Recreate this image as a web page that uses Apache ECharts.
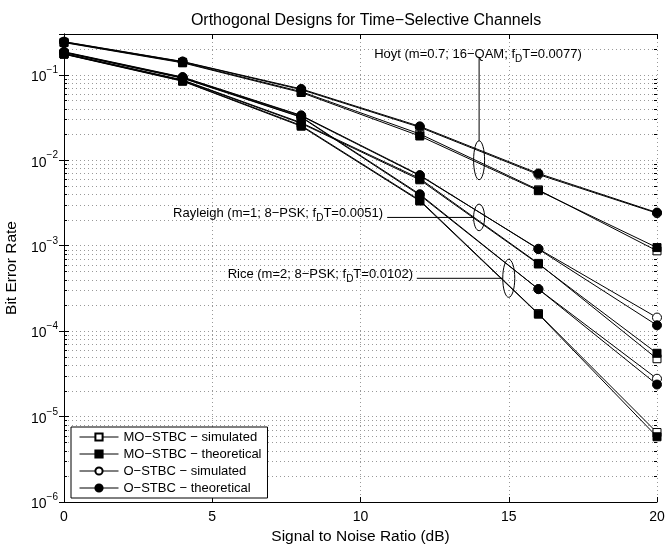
<!DOCTYPE html>
<html>
<head>
<meta charset="utf-8">
<script src="https://cdn.jsdelivr.net/npm/echarts@6/dist/echarts.min.js"></script>
<style>
  html, body { margin: 0; padding: 0; background: #fff; }
  .box { width: 666px; height: 544px; }
</style>
</head>
<body>
<div class="box"></div>
<script>
// SNR points (dB)
var snr = [0, 4, 8, 12, 16, 20];

// Hoyt (m=0.7; 16-QAM)
var hoytMOsim = [0.240, 0.140, 0.0635, 0.0203, 0.00450, 0.00087];
var hoytMOth  = [0.238, 0.138, 0.0620, 0.0192, 0.00440, 0.00095];
var hoytOsim  = [0.243, 0.142, 0.0670, 0.0243, 0.00680, 0.00240];
var hoytOth   = [0.244, 0.143, 0.0683, 0.0249, 0.00700, 0.00244];

// Rayleigh (m=1; 8-PSK)
var rayMOsim = [0.178, 0.087, 0.0275, 0.0061, 0.00062, 0.0000475];
var rayMOth  = [0.176, 0.086, 0.0270, 0.0059, 0.00061, 0.000055];
var rayOsim  = [0.184, 0.093, 0.0330, 0.0066, 0.00092, 0.000144];
var rayOth   = [0.186, 0.094, 0.0335, 0.0067, 0.00091, 0.000117];

// Rice (m=2; 8-PSK)
var riceMOsim = [0.175, 0.085, 0.0255, 0.0034, 0.000160, 0.0000065];
var riceMOth  = [0.174, 0.084, 0.0250, 0.00333, 0.000158, 0.0000058];
var riceOsim  = [0.182, 0.091, 0.0318, 0.0039, 0.00031, 0.0000277];
var riceOth   = [0.183, 0.092, 0.0322, 0.0040, 0.00031, 0.0000237];

var legendNames = ["MO\u2212STBC \u2212 simulated", "MO\u2212STBC \u2212 theoretical",
                   "O\u2212STBC \u2212 simulated", "O\u2212STBC \u2212 theoretical"];
var xTicks = [0, 5, 10, 15, 20];

(function () {
    var myChart = echarts.init(document.querySelector(".box"));
    var font = "'Liberation Sans', Arial, Helvetica, sans-serif";

    function pairs(vals) {
        return vals.map(function (v, i) { return [snr[i], v]; });
    }

    // one line series; open markers are white inside
    function mk(nameIdx, vals, symbol, filled) {
        return {
            name: legendNames[nameIdx],
            type: "line",
            data: pairs(vals),
            symbol: symbol,
            symbolSize: symbol === "circle" ? 9 : 8,
            showAllSymbol: true,
            lineStyle: { color: "#000", width: 1 },
            itemStyle: { color: filled ? "#000" : "#fff", borderColor: "#000", borderWidth: 1 },
            z: filled ? 3 : 2,
            animation: false
        };
    }

    // minor log grid lines (2..9 of every decade)
    var minor = [];
    for (var e = -6; e <= -1; e++) {
        for (var k = 2; k <= 9; k++) {
            var v = k * Math.pow(10, e);
            if (v < 0.3) minor.push(v);
        }
    }

    var series = [
        mk(0, hoytMOsim, "rect", false), mk(1, hoytMOth, "rect", true),
        mk(2, hoytOsim, "circle", false), mk(3, hoytOth, "circle", true),
        mk(0, rayMOsim, "rect", false), mk(1, rayMOth, "rect", true),
        mk(2, rayOsim, "circle", false), mk(3, rayOth, "circle", true),
        mk(0, riceMOsim, "rect", false), mk(1, riceMOth, "rect", true),
        mk(2, riceOsim, "circle", false), mk(3, riceOth, "circle", true),
        {
            // dotted minor grid + short inner minor ticks on both sides
            name: "minor",
            type: "custom",
            silent: true,
            z: 1,
            animation: false,
            data: minor.map(function (v) { return [0, v]; }),
            renderItem: function (params, api) {
                var y = Math.round(api.coord([0, api.value(1)])[1]) + 0.5;
                var cs = params.coordSys;
                var l = cs.x, r = cs.x + cs.width;
                var tick = { stroke: "#000", lineWidth: 1 };
                return {
                    type: "group",
                    children: [
                        { type: "line", shape: { x1: l, y1: y, x2: r, y2: y },
                          style: { stroke: "#999", lineWidth: 1, lineDash: [1, 3] } },
                        { type: "line", shape: { x1: l, y1: y, x2: l + 3, y2: y }, style: tick },
                        { type: "line", shape: { x1: r - 3, y1: y, x2: r, y2: y }, style: tick }
                    ]
                };
            }
        }
    ];

    function powLabel(v) {
        var lg = Math.log10(v);
        var e = Math.round(lg);
        if (Math.abs(lg - e) > 1e-6) return "";
        return "{b|10}{s|\u2212" + (-e) + "}";
    }

    var option = {
        backgroundColor: "#fff",
        textStyle: { fontFamily: font },
        title: {
            text: "Orthogonal Designs for Time\u2212Selective Channels",
            left: 361,
            textAlign: "center",
            top: 8,
            textStyle: { fontFamily: font, fontSize: 16, fontWeight: "normal", color: "#000" }
        },
        grid: { left: 64, right: 9, top: 34, bottom: 42, outerBoundsMode: "none", containLabel: false },
        legend: {
            data: legendNames,
            orient: "vertical",
            left: 71,
            top: 427,
            padding: [3, 6, 3, 8],
            itemGap: 3,
            itemWidth: 39,
            itemHeight: 9,
            backgroundColor: "#fff",
            borderColor: "#000",
            borderWidth: 1,
            borderRadius: 0,
            selectedMode: false,
            lineStyle: { width: 1, color: "#000" },
            textStyle: { fontFamily: font, fontSize: 13, color: "#000", lineHeight: 14 }
        },
        xAxis: [{
            type: "value",
            min: 0, max: 20, interval: 5,
            name: "Signal to Noise Ratio (dB)",
            nameLocation: "middle",
            nameGap: 25,
            nameTextStyle: { fontFamily: font, fontSize: 15.5, color: "#000" },
            axisLine: { lineStyle: { color: "#000", width: 1 } },
            axisTick: { inside: true, length: 5, lineStyle: { color: "#000" } },
            axisLabel: { fontFamily: font, fontSize: 14, color: "#000", margin: 8,
                formatter: function (v) { return xTicks.indexOf(v) >= 0 ? String(v) : ""; } },
            splitLine: { show: true, lineStyle: { color: "#999", width: 1, type: [1, 3] } }
        }, {
            type: "value",
            position: "top",
            min: 0, max: 20, interval: 5,
            axisLine: { show: true, lineStyle: { color: "#000", width: 1 } },
            axisTick: { show: true, inside: true, length: 5, lineStyle: { color: "#000" } },
            axisLabel: { show: false },
            splitLine: { show: false }
        }],
        yAxis: [{
            type: "log",
            logBase: 10,
            min: 1e-6, max: 0.3,
            name: "Bit Error Rate",
            nameLocation: "middle",
            nameGap: 40,
            nameTextStyle: { fontFamily: font, fontSize: 15.5, color: "#000" },
            axisLine: { show: true, lineStyle: { color: "#000", width: 1 } },
            axisTick: { show: true, inside: true, length: 5, lineStyle: { color: "#000" } },
            axisLabel: {
                color: "#000",
                margin: 6,
                formatter: powLabel,
                rich: {
                    b: { fontFamily: font, fontSize: 14, color: "#000", verticalAlign: "bottom", padding: [5, 0, 0, 0] },
                    s: { fontFamily: font, fontSize: 10, color: "#000", verticalAlign: "top" }
                }
            },
            splitLine: { show: true, lineStyle: { color: "#999", width: 1, type: [1, 3] } }
        }, {
            type: "log",
            logBase: 10,
            min: 1e-6, max: 0.3,
            position: "right",
            axisLine: { show: true, lineStyle: { color: "#000", width: 1 } },
            axisTick: { show: true, inside: true, length: 5, lineStyle: { color: "#000" } },
            axisLabel: { show: false },
            splitLine: { show: false }
        }],
        series: series
    };

    myChart.setOption(option);

    // annotations placed in data coordinates
    function px(x, y) { return myChart.convertToPixel({ gridIndex: 0 }, [x, y]); }
    var rich = {
        n: { fontFamily: font, fontSize: 13, color: "#000", verticalAlign: "top" },
        d: { fontFamily: font, fontSize: 10, color: "#000", verticalAlign: "bottom", padding: [7, 0, 0, 0] }
    };
    function label(x, y, txt, align) {
        var p = px(x, y);
        return {
            type: "text", z: 20,
            style: { x: p[0], y: p[1], text: txt, rich: rich, align: align, verticalAlign: "middle" }
        };
    }
    function ellipse(x, y, yTop, rx) {
        var c = px(x, y), t = px(x, yTop);
        return {
            type: "ellipse", z: 20,
            shape: { cx: c[0], cy: c[1], rx: rx, ry: c[1] - t[1] },
            style: { fill: "none", stroke: "#000", lineWidth: 1 }
        };
    }
    function seg(a, b) {
        return {
            type: "line", z: 20,
            shape: { x1: a[0], y1: a[1], x2: b[0], y2: b[1] },
            style: { stroke: "#000", lineWidth: 1 }
        };
    }

    var rx = 5.5;
    var hoytE = px(14, 0.0169), rayE = px(14, 0.00214), riceE = px(15, 0.000415);
    var gfx = [
        label(10.46, 0.166, "{n|Hoyt (m=0.7; 16\u2212QAM; f}{d|D}{n|T=0.0077)}", "left"),
        seg(px(14, 0.1596), hoytE),
        ellipse(14, 0.0100, 0.0169, rx),
        label(10.76, 0.00227, "{n|Rayleigh (m=1; 8\u2212PSK; f}{d|D}{n|T=0.0051)}", "right"),
        seg(px(10.9, 0.00214), [rayE[0] - rx, rayE[1]]),
        ellipse(14, 0.00214, 0.00306, rx),
        label(11.77, 0.00044, "{n|Rice (m=2; 8\u2212PSK; f}{d|D}{n|T=0.0102)}", "right"),
        seg(px(11.9, 0.000415), [riceE[0] - rx - 0.5, riceE[1]]),
        ellipse(15, 0.000415, 0.000693, rx + 0.5)
    ];
    myChart.setOption({ graphic: gfx });

    window.addEventListener("resize", function () {
        myChart.resize();
    });
})();
</script>
</body>
</html>
